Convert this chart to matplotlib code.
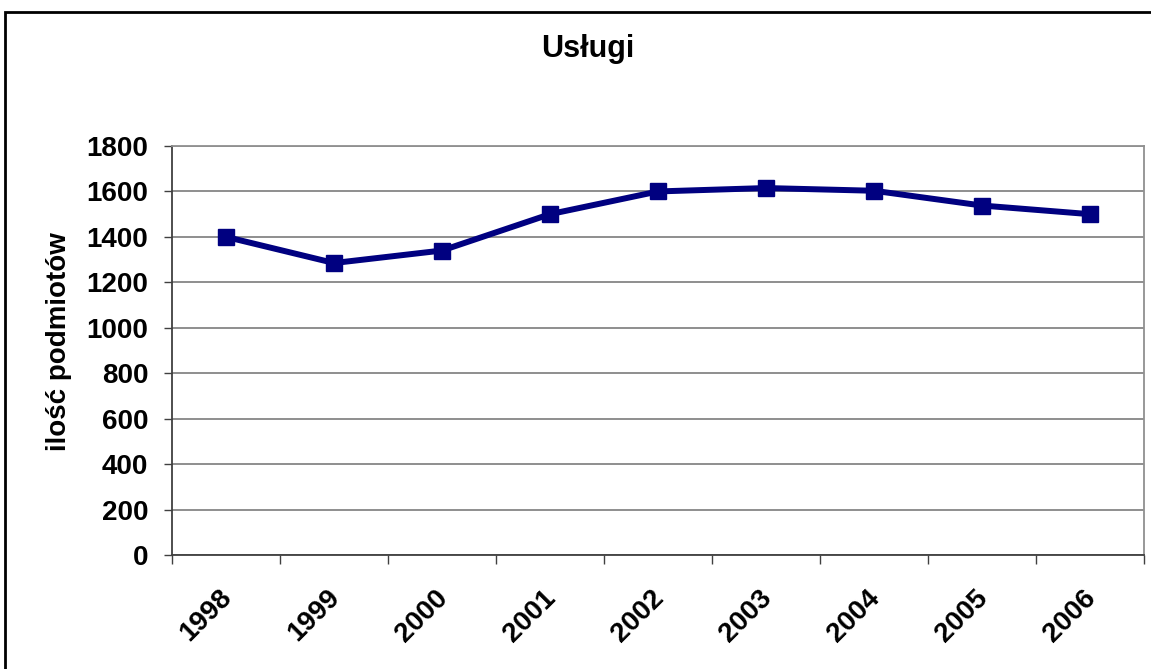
import matplotlib
matplotlib.use('Agg')
import matplotlib.pyplot as plt
from matplotlib.patches import Rectangle
from matplotlib.transforms import ScaledTranslation

plt.rcParams['font.family'] = ['Liberation Sans', 'DejaVu Sans']
plt.rcParams['font.weight'] = 'bold'

years = ['1998', '1999', '2000', '2001', '2002', '2003', '2004', '2005', '2006']
values = [1400, 1285, 1340, 1500, 1600, 1615, 1603, 1538, 1500]
y_ticks = [0, 200, 400, 600, 800, 1000, 1200, 1400, 1600, 1800]

W, H = 1151, 669
fig = plt.figure(figsize=(W / 100, H / 100), dpi=100)
ax = fig.add_axes([172 / W, 1 - 555 / H, (1144 - 172) / W, (555 - 146) / H])

x = list(range(len(years)))
ax.plot(x, values, color='#000080', linewidth=4.3, marker='s', markersize=12,
        markerfacecolor='#000080', markeredgecolor='#000080', zorder=3)

ax.set_xlim(-0.5, len(years) - 0.5)
ax.set_ylim(0, 1800)
ax.set_yticks(y_ticks)
ax.set_yticklabels([str(v) for v in y_ticks], fontsize=20, fontweight='bold')
ax.yaxis.grid(True, color='#707070', linewidth=1.1)
ax.set_axisbelow(True)

# kreski podziałki na granicach kategorii, etykiety w środkach
ax.set_xticks([i - 0.5 for i in range(len(years) + 1)])
ax.set_xticklabels([])
ax.set_xticks(x, minor=True)
ax.set_xticklabels(years, minor=True, fontsize=20, fontweight='bold',
                   rotation=45, ha='right', va='center', rotation_mode='anchor')
ax.tick_params(axis='x', which='major', direction='out', length=6.5, width=1, color='#404040')
ax.tick_params(axis='x', which='minor', length=0, pad=28)
ax.tick_params(axis='y', direction='out', length=6, width=1, color='#404040', pad=11)
for lbl in ax.get_xticklabels(minor=True):
    lbl.set_transform(lbl.get_transform() + ScaledTranslation(2 / 100, 0, fig.dpi_scale_trans))

for side in ['top', 'right']:
    ax.spines[side].set_color('#909090')
    ax.spines[side].set_linewidth(1.3)
for side in ['left', 'bottom']:
    ax.spines[side].set_color('#404040')
    ax.spines[side].set_linewidth(1.3)

fig.text(588 / W, 1 - 57 / H, 'Usługi', ha='center', va='baseline', fontsize=22, fontweight='bold')
fig.text(59 / W, 1 - 342 / H, 'ilość podmiotów', ha='center', va='center', rotation=90,
         fontsize=20, fontweight='bold')

# ramka całego wykresu (ucięta z prawej i od dołu)
fig.add_artist(Rectangle((5 / W, -0.2), 1.5, 1.2 - 12 / H, transform=fig.transFigure,
                         fill=False, edgecolor='black', linewidth=2))

fig.savefig('out.png', dpi=100)
